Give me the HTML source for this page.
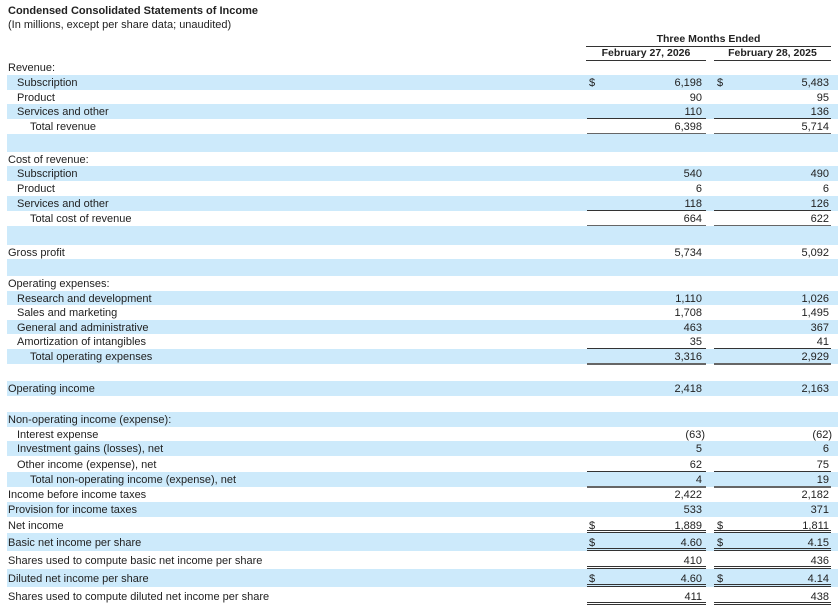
<!DOCTYPE html>
<html><head><meta charset="utf-8"><style>
body{margin:0;background:#fff;width:838px;height:607px;overflow:hidden;position:relative;font-family:"Liberation Sans",sans-serif;color:#222;font-size:11px}
.a{position:absolute}
.r{position:absolute;left:7px;width:831px}
.b{background:#cdeafb}
.l{position:absolute;white-space:nowrap}
.n{position:absolute;text-align:right;white-space:nowrap}
.ln{position:absolute;height:1px;background:#333}
.p{margin-right:-3px}
</style></head><body>
<div class="a" style="left:8px;top:5px;font-weight:bold;font-size:11px">Condensed Consolidated Statements of Income</div>
<div class="a" style="left:8px;top:19px;font-size:11px">(In millions, except per share data; unaudited)</div>
<div class="a" style="left:586px;width:245px;top:33px;text-align:center;font-weight:bold;font-size:10.5px">Three Months Ended</div>
<div class="ln" style="left:586px;width:245px;top:46px"></div>
<div class="a" style="left:586px;width:120px;top:47px;text-align:center;font-weight:bold;font-size:10.5px">February 27, 2026</div>
<div class="a" style="left:714px;width:117px;top:47px;text-align:center;font-weight:bold;font-size:10.5px">February 28, 2025</div>
<div class="ln" style="left:586px;width:120px;top:60px"></div>
<div class="ln" style="left:714px;width:117px;top:60px"></div>
<div id="t"></div>
<script>
var R=[
[60,75,0,0,"Revenue:"],
[75,90,1,1,"Subscription","6,198","5,483",1],
[90,104,0,1,"Product","90","95"],
[104,119,1,1,"Services and other","110","136",0,"s"],
[119,134,0,2,"Total revenue","6,398","5,714",0,"g"],
[134,152,1,0,""],
[152,166,0,0,"Cost of revenue:"],
[166,181,1,1,"Subscription","540","490"],
[181,196,0,1,"Product","6","6"],
[196,211,1,1,"Services and other","118","126",0,"s"],
[211,226,0,2,"Total cost of revenue","664","622",0,"g"],
[226,245,1,0,""],
[245,259,0,0,"Gross profit","5,734","5,092"],
[259,276,1,0,""],
[276,291,0,0,"Operating expenses:"],
[291,305,1,1,"Research and development","1,110","1,026"],
[305,320,0,1,"Sales and marketing","1,708","1,495"],
[320,334,1,1,"General and administrative","463","367"],
[334,349,0,1,"Amortization of intangibles","35","41",0,"s"],
[349,364,1,2,"Total operating expenses","3,316","2,929",0,"g"],
[364,381,0,0,""],
[381,396,1,0,"Operating income","2,418","2,163"],
[396,412,0,0,""],
[412,427,1,0,"Non-operating income (expense):"],
[427,441,0,1,"Interest expense","(63)","(62)"],
[441,456,1,1,"Investment gains (losses), net","5","6"],
[456,472,0,1,"Other income (expense), net","62","75",0,"s"],
[472,487,1,2,"Total non-operating income (expense), net","4","19",0,"g"],
[487,502,0,0,"Income before income taxes","2,422","2,182"],
[502,517,1,0,"Provision for income taxes","533","371"],
[517,533,0,0,"Net income","1,889","1,811",1,"d"],
[533,551,1,0,"Basic net income per share","4.60","4.15",1,"d"],
[551,569,0,0,"Shares used to compute basic net income per share","410","436",0,"d"],
[569,587,1,0,"Diluted net income per share","4.60","4.14",1,"d"],
[587,605,0,0,"Shares used to compute diluted net income per share","411","438",0,"d"]
];
var h="",ind=[8,17,30];
R.forEach(function(r){
var t=r[0],b=r[1],H=b-t;
h+='<div class="r'+(r[2]?' b':'')+'" style="top:'+t+'px;height:'+H+'px"></div>';
var ty=t+(H-13)/2+1;
h+='<div class="l" style="left:'+ind[r[3]]+'px;top:'+ty+'px;line-height:13px">'+r[4]+'</div>';
function v(s){return s&&s[0]=="("?s.slice(0,-1)+'<span class="p">)</span>':s;}
if(r[5]!==undefined){
h+='<div class="n" style="right:136px;top:'+ty+'px;line-height:13px">'+v(r[5])+'</div>';
h+='<div class="n" style="right:9px;top:'+ty+'px;line-height:13px">'+v(r[6])+'</div>';
}
if(r[7]){h+='<div class="l" style="left:589px;top:'+ty+'px;line-height:13px">$</div><div class="l" style="left:717px;top:'+ty+'px;line-height:13px">$</div>';}
var k=r[8];
if(k=="s"){h+='<div class="ln" style="left:587px;width:119px;top:'+(b-1)+'px"></div><div class="ln" style="left:714px;width:117px;top:'+(b-1)+'px"></div>';}
if(k=="g"){h+='<div class="ln" style="left:587px;width:119px;top:'+(b-1)+'px;height:2px;background:#666"></div><div class="ln" style="left:714px;width:117px;top:'+(b-1)+'px;height:2px;background:#666"></div>';}
if(k=="d"){[b-3,b-1].forEach(function(y){h+='<div class="ln" style="left:587px;width:119px;top:'+y+'px"></div><div class="ln" style="left:714px;width:117px;top:'+y+'px"></div>';});}
});
document.getElementById("t").innerHTML=h;
</script>
</body></html>
